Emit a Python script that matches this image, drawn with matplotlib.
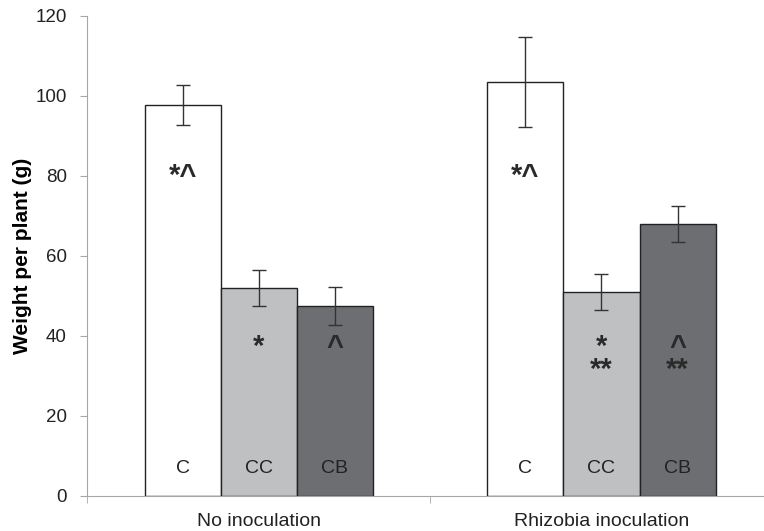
import numpy as np
import matplotlib.pyplot as plt

plt.rcParams['font.family'] = ['Liberation Sans', 'DejaVu Sans']

# data
groups = ['No inoculation', 'Rhizobia inoculation']
treatments = ['C', 'CC', 'CB']
weights = {
    'C':  [97.8, 103.5],
    'CC': [52.0, 51.0],
    'CB': [47.5, 68.0],
}
errors = {
    'C':  [5.0, 11.3],
    'CC': [4.5, 4.6],
    'CB': [4.7, 4.6],
}
# significance marks drawn inside the bars
signif = {
    'C':  ['*^', '*^'],
    'CC': ['*', '*\n**'],
    'CB': ['^', '^\n**'],
}
colors = {'C': '#ffffff', 'CC': '#bfc0c2', 'CB': '#6d6e71'}

fig = plt.figure(figsize=(7.64, 5.31), dpi=100)
ax = fig.add_axes([0.1145, 0.066, 0.897, 0.904])

x = np.arange(len(groups))
bw = 1 / 4.5
offsets = [-bw, 0, bw]

for off, t in zip(offsets, treatments):
    ax.bar(x + off, weights[t], width=bw, color=colors[t], edgecolor='#222222',
           linewidth=1.0, zorder=2)
    ax.errorbar(x + off, weights[t], yerr=errors[t], fmt='none', ecolor='#333333',
                elinewidth=1.0, capsize=5, capthick=1.0, zorder=3)
    for xi, s in zip(x + off, signif[t]):
        y1 = 83.5 if t == 'C' else 40.8
        ax.text(xi, y1, s, ha='center', va='top', fontsize=21, fontweight='bold',
                color='#2a2a2a', linespacing=0.8)
        ax.text(xi, 5.75, t, ha='center', va='baseline', fontsize=14, color='#222222')

ax.set_xlim(-0.5, 1.5)
ax.set_ylim(0, 120)
ax.set_yticks(np.arange(0, 121, 20))
ax.set_xticks(x)
ax.set_xticklabels(groups, fontsize=14, color='#222222')
ax.set_xticks([-0.5, 0.5, 1.5], minor=True)
ax.tick_params(axis='x', which='major', length=0, pad=12)
ax.tick_params(axis='x', which='minor', length=5, color='#a6a6a6')
ax.tick_params(axis='y', length=5, color='#a6a6a6', labelsize=13.5,
               labelcolor='#222222', pad=10)
ax.set_ylabel('Weight per plant (g)', fontsize=15, fontweight='bold', labelpad=2)

for s in ['top', 'right']:
    ax.spines[s].set_visible(False)
for s in ['left', 'bottom']:
    ax.spines[s].set_color('#a6a6a6')

fig.savefig('out.png', dpi=100)
